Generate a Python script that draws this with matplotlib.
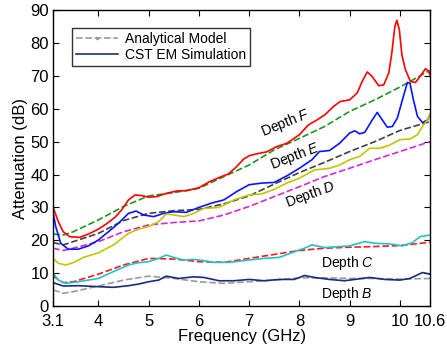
import matplotlib
matplotlib.use("Agg")
import matplotlib.pyplot as plt
from matplotlib.lines import Line2D

plt.rcParams["font.family"] = ["Liberation Sans", "DejaVu Sans"]
plt.rcParams["mathtext.fontset"] = "custom"
plt.rcParams["mathtext.it"] = "Liberation Sans:italic"

# Depth F - CST simulation (red) and analytical model (green)
f_sim_F = [3.1, 3.2, 3.3, 3.43, 3.63, 3.83, 4.0, 4.16, 4.33, 4.46, 4.6, 4.73, 4.86, 5.0,
           5.16, 5.36, 5.56, 5.76, 6.0, 6.22, 6.42, 6.59, 6.75, 6.89, 7.0, 7.15, 7.35,
           7.55, 7.75, 8.0, 8.18, 8.35, 8.51, 8.68, 8.81, 9.0, 9.15, 9.25, 9.35, 9.45,
           9.58, 9.68, 9.78, 9.84, 9.9, 9.94, 9.99, 10.04, 10.11, 10.21, 10.31, 10.41,
           10.51, 10.57, 10.6]
sim_F = [30, 25.7, 22.6, 21.1, 20.9, 22.1, 23.4, 25, 27, 29.2, 32.3, 33.8, 33.6, 33.1,
         33.3, 34.3, 35, 35.1, 36, 37.9, 39.2, 40.2, 42.4, 44.7, 45.7, 46.3, 46.9,
         48.5, 49.5, 52.1, 55.1, 56.6, 58.2, 60.7, 62.2, 62.7, 64.8, 68.3, 71.2, 69.8,
         67, 67.3, 70.9, 77, 85, 86.9, 84, 76.4, 71.9, 68.3, 68, 70, 72.2, 71.4, 70.4]

f_model = [3.1, 3.3, 3.5, 4.0, 4.5, 5.0, 5.5, 6.0, 6.5, 7.0, 7.5, 8.0, 8.5, 9.0, 9.5,
           10.0, 10.6]
model_F = [21.9, 21.6, 22.6, 26.2, 30.3, 33.5, 34.5, 35.8, 39.4, 42.9, 47.5, 51, 54.6,
           59.2, 62.7, 66.6, 71.7]

# Depth E
f_sim_E = [3.1, 3.15, 3.25, 3.4, 3.6, 3.8, 4.0, 4.2, 4.4, 4.6, 4.75, 4.9, 5.1, 5.3, 5.5,
           5.75, 6.0, 6.25, 6.5, 6.75, 7.0, 7.25, 7.5, 7.75, 8.0, 8.25, 8.4, 8.6, 8.8,
           9.0, 9.1, 9.2, 9.3, 9.45, 9.55, 9.65, 9.75, 9.85, 9.95, 10.05, 10.15, 10.2,
           10.27, 10.35, 10.45, 10.55, 10.6]
sim_E = [28.2, 24.2, 19.1, 17.3, 17.3, 18.3, 20.1, 22.6, 25.2, 28.2, 28.9, 27.7, 27.2,
         28.2, 28.7, 28.5, 30, 31.3, 32.3, 34.8, 36.9, 37.4, 37.6, 39.6, 41.9, 44.5,
         47, 47.3, 49.5, 52.6, 53.3, 52.4, 52.8, 56.6, 58.9, 56.6, 54.4, 54.6, 57.2,
         62.7, 68, 67.8, 62.7, 57.7, 55.8, 56.6, 58.2]
model_E = [19.3, 18.6, 19.6, 22.1, 26, 28.2, 29, 29.4, 31.1, 33.5, 37.1, 40.6, 43.7, 47,
           50, 53.4, 56.1]

# Depth D
f_sim_D = [3.1, 3.2, 3.35, 3.5, 3.7, 4.0, 4.3, 4.6, 4.8, 5.0, 5.2, 5.35, 5.5, 5.7, 5.9,
           6.1, 6.4, 6.7, 7.0, 7.25, 7.5, 7.75, 8.0, 8.3, 8.6, 8.8, 9.0, 9.2, 9.4, 9.6,
           9.8, 10.0, 10.2, 10.35, 10.45, 10.55, 10.6]
sim_D = [14.5, 13, 12.5, 13.2, 14.8, 16.2, 18.6, 22.1, 23.4, 24.2, 25.7, 28, 27.7, 27.2,
         28.2, 29.7, 30, 32.3, 33.8, 34.1, 35.5, 37.4, 38.9, 41.4, 41.9, 42.9, 44.5,
         45.5, 48, 48, 49, 50.6, 50.8, 52.1, 54.6, 56.6, 58.2]
model_D = [17.6, 16.9, 17.6, 19.6, 22.6, 24.7, 25.4, 25.9, 27.7, 30.3, 33.3, 36.3, 39.4,
           41.9, 44.5, 47, 50]

# Depth C
f_sim_C = [3.1, 3.2, 3.35, 3.6, 4.0, 4.3, 4.6, 4.8, 5.0, 5.2, 5.35, 5.5, 5.7, 5.9, 6.1,
           6.3, 6.6, 7.0, 7.3, 7.6, 7.9, 8.1, 8.25, 8.5, 8.8, 9.0, 9.3, 9.5, 9.8, 10.05,
           10.25, 10.4, 10.6]
sim_C = [10, 7.9, 6.9, 7.4, 8.4, 10.5, 12.5, 13.2, 13.5, 14.5, 15.5, 14.8, 14, 14.2,
         13.8, 13.3, 13.3, 14, 14.5, 14.8, 16.5, 17.6, 18.6, 17.8, 18.1, 18.3, 19.6,
         19.1, 18.9, 18.3, 19.3, 21.1, 21.6]
model_C = [9.1, 7.1, 7.4, 9.7, 12.5, 14.5, 14.3, 13.5, 13.3, 14.5, 15.7, 16.9, 17.6,
           17.9, 18.1, 18.4, 19.4]

# Depth B
f_sim_B = [3.1, 3.3, 3.6, 4.0, 4.3, 4.6, 4.8, 5.0, 5.2, 5.35, 5.6, 5.9, 6.1, 6.4, 6.7,
           7.0, 7.3, 7.6, 7.9, 8.1, 8.3, 8.6, 8.9, 9.1, 9.4, 9.7, 10.0, 10.2, 10.45, 10.6]
sim_B = [7.1, 6.1, 6.2, 5.9, 5.7, 6.2, 6.7, 7.4, 7.9, 9.1, 8.4, 8.9, 8.7, 7.7, 7.7, 8.1,
         7.7, 8.1, 8.1, 9.3, 8.7, 8.1, 7.7, 8.1, 8.7, 8.1, 7.9, 8.4, 10.2, 9.7]
model_B = [4.9, 3.9, 4.4, 6.1, 7.9, 9.1, 8.4, 7.4, 6.9, 7.4, 7.9, 8.6, 8.6, 8.4, 8.4,
           8.2, 8.4]

x_ticks = [3.1, 4, 5, 6, 7, 8, 9, 10, 10.6]
x_tick_labels = ["3.1", "4", "5", "6", "7", "8", "9", "10", "10.6"]

fig = plt.figure(figsize=(4.47, 3.49), dpi=100)
ax = fig.add_axes([0.119, 0.123, 0.843, 0.848])

dash = (0, (4, 1.6))
lw = 1.2
ax.plot(f_model, model_F, color="#1e961e", ls=dash, lw=lw)
ax.plot(f_model, model_E, color="#404040", ls=dash, lw=lw)
ax.plot(f_model, model_D, color="#d52ad5", ls=dash, lw=lw)
ax.plot(f_model, model_C, color="#ff1a1a", ls=dash, lw=lw)
ax.plot(f_model, model_B, color="#9a9a9a", ls=dash, lw=lw)

ax.plot(f_sim_F, sim_F, color="#ff0000", lw=lw)
ax.plot(f_sim_E, sim_E, color="#0a14ff", lw=lw)
ax.plot(f_sim_D, sim_D, color="#c4c400", lw=lw)
ax.plot(f_sim_C, sim_C, color="#1ec4c8", lw=lw)
ax.plot(f_sim_B, sim_B, color="#1a2c78", lw=lw)

ax.text(7.72, 55.6, "Depth $F$", fontsize=10, rotation=22, ha="center", va="center")
ax.text(7.92, 45.5, "Depth $E$", fontsize=10, rotation=21, ha="center", va="center")
ax.text(8.22, 33.8, "Depth $D$", fontsize=10, rotation=20, ha="center", va="center")
ax.text(8.95, 13.0, "Depth $C$", fontsize=10, ha="center", va="center")
ax.text(8.95, 3.7, "Depth $B$", fontsize=10, ha="center", va="center")

handles = [
    Line2D([], [], color="#9a9a9a", ls=dash, lw=lw, marker=".", markersize=3),
    Line2D([], [], color="#1a2c78", lw=lw),
]
leg = ax.legend(handles, ["Analytical Model", "CST EM Simulation"], loc="upper left",
                bbox_to_anchor=(0.05, 0.94), fontsize=10, fancybox=False,
                handlelength=3.0, borderpad=0.3, labelspacing=0.15,
                handletextpad=0.5, borderaxespad=0)
leg.get_frame().set_edgecolor("black")
leg.get_frame().set_linewidth(1.0)

ax.set_xlim(3.1, 10.6)
ax.set_ylim(0, 90)
ax.set_xticks(x_ticks)
ax.set_xticklabels(x_tick_labels)
ax.set_yticks(range(0, 91, 10))
ax.tick_params(direction="in", length=4, labelsize=12, top=True, right=True)
ax.tick_params(axis="x", pad=6)
ax.tick_params(axis="y", pad=3)
ax.set_xlabel("Frequency (GHz)", fontsize=12, labelpad=0)
ax.set_ylabel("Attenuation (dB)", fontsize=12, labelpad=2)
for s in ax.spines.values():
    s.set_linewidth(1.0)

fig.savefig("out.png", dpi=100)
